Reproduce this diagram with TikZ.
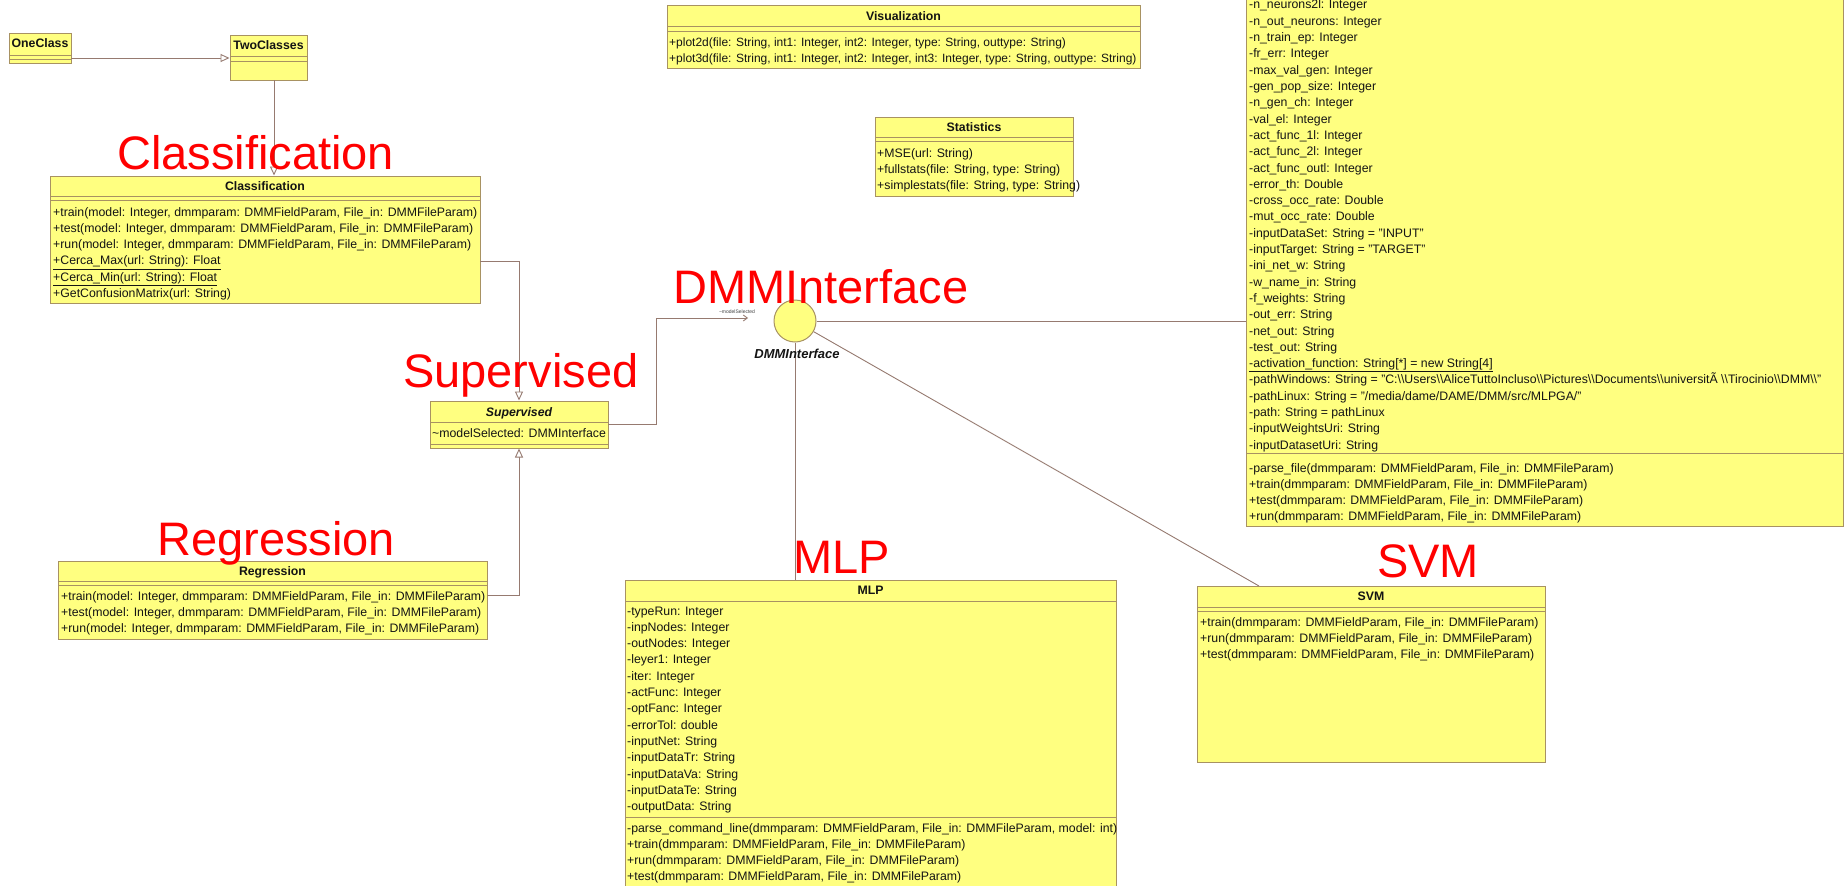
\documentclass[tikz,border=0pt]{standalone}
\usepackage{fontspec}
\setmainfont{Liberation Sans}
\usetikzlibrary{arrows.meta,fit}

\definecolor{classfill}{RGB}{255,255,128}
\definecolor{classedge}{RGB}{168,146,98}
\definecolor{linkcol}{RGB}{150,122,112}
\definecolor{memtext}{RGB}{20,20,20}
\newcommand\dbs{\textbackslash\textbackslash}

\tikzset{
  classbox/.style={draw=classedge, fill=classfill, line width=1pt, inner sep=0pt},
  sepline/.style={draw=classedge, line width=0.9pt},
  member/.style={anchor=base west, inner sep=0pt, text=memtext, font=\fontsize{12.3}{14}\selectfont},
  ctitle/.style={anchor=base, inner sep=0pt, text=memtext, font=\fontsize{12.3}{14}\selectfont\bfseries},
  gen/.style={draw=linkcol, line width=0.9pt, -{Triangle[length=9pt,width=8pt,fill=white]}},
  assoc/.style={draw=linkcol, line width=0.9pt, -{Straight Barb[length=4pt,width=6pt]}},
  link/.style={draw=linkcol, line width=0.9pt},
  caption/.style={anchor=base west, inner sep=0pt, text=red, font=\fontsize{47}{47}\selectfont},
}

% one text line per member, 16.3 units apart
\newcommand\memberlist[4]{%
  \foreach \t [count=\i] in {#4} {
    \node[member] (#1-\i) at (#2, {#3+4+16.3*(\i-1)}) {\t};
  }%
}

\begin{document}
\begin{tikzpicture}[x=1pt, y=-1pt]
\useasboundingbox (0,0) rectangle (1845,886);
\fill[white] (0,0) rectangle (1845,886);
\clip (0,0) rectangle (1845,886);

% ---------- class boxes ----------
\node[classbox, fit={(9,33) (71,63)}] (one) {};
\node[classbox, fit={(230,35) (307,80)}] (two) {};
\node[classbox, fit={(50,176) (480,303)}] (cls) {};
\node[classbox, fit={(430,401) (608,448)}] (sup) {};
\node[classbox, fit={(58,561) (487,639)}] (reg) {};
\node[classbox, fit={(667,5) (1140,68)}] (vis) {};
\node[classbox, fit={(875,117) (1073,196)}] (stat) {};
\node[classbox, fit={(625,580) (1116,900)}] (mlp) {};
\node[classbox, fit={(1197,586) (1545,762)}] (svm) {};
\node[classbox, fit={(1246,-20) (1843,526)}] (ga) {};

% compartment separators
\draw[sepline] (9,55) -- (71,55) (9,59) -- (71,59);
\draw[sepline] (230,56) -- (307,56) (230,61) -- (307,61);
\draw[sepline] (50,196) -- (480,196) (50,200) -- (480,200);
\draw[sepline] (430,422) -- (608,422) (430,444) -- (608,444);
\draw[sepline] (58,581) -- (487,581) (58,585) -- (487,585);
\draw[sepline] (667,26) -- (1140,26) (667,31) -- (1140,31);
\draw[sepline] (875,137) -- (1073,137) (875,141) -- (1073,141);
\draw[sepline] (625,601) -- (1116,601) (625,817) -- (1116,817);
\draw[sepline] (1197,607) -- (1545,607) (1197,611) -- (1545,611);
\draw[sepline] (1246,453) -- (1843,453);

% class names
\node[ctitle] (one-name) at (40,47) {OneClass};
\node[ctitle] (two-name) at (268.5,49) {TwoClasses};
\node[ctitle] (cls-name) at (265,190) {Classification};
\node[ctitle, font=\fontsize{12.3}{14}\selectfont\bfseries\itshape] (sup-name) at (519,416) {Supervised};
\node[ctitle] (reg-name) at (272.5,575) {Regression};
\node[ctitle] (vis-name) at (903.5,20) {Visualization};
\node[ctitle] (stat-name) at (974,131) {Statistics};
\node[ctitle] (mlp-name) at (870.5,594) {MLP};
\node[ctitle] (svm-name) at (1371,600) {SVM};

% members
\memberlist{clsm}{53}{212}{%
  {+train(model: Integer, dmmparam: DMMFieldParam, File\_in: DMMFileParam)},
  {+test(model: Integer, dmmparam: DMMFieldParam, File\_in: DMMFileParam)},
  {+run(model: Integer, dmmparam: DMMFieldParam, File\_in: DMMFileParam)},
  \underline{+Cerca\_Max(url: String): Float},
  \underline{+Cerca\_Min(url: String): Float},
  +GetConfusionMatrix(url: String)}

\node[member] (supa-1) at (432,437) {\textasciitilde modelSelected: DMMInterface};

\memberlist{regm}{61}{596}{%
  {+train(model: Integer, dmmparam: DMMFieldParam, File\_in: DMMFileParam)},
  {+test(model: Integer, dmmparam: DMMFieldParam, File\_in: DMMFileParam)},
  {+run(model: Integer, dmmparam: DMMFieldParam, File\_in: DMMFileParam)}}

\begin{scope}[member/.append style={font=\fontsize{12}{14}\selectfont}]
\memberlist{vism}{669}{42}{%
  {+plot2d(file: String, int1: Integer, int2: Integer, type: String, outtype: String)},
  {+plot3d(file: String, int1: Integer, int2: Integer, int3: Integer, type: String, outtype: String)}}
\end{scope}

\memberlist{statm}{877}{153}{%
  +MSE(url: String),
  {+fullstats(file: String, type: String)},
  {+simplestats(file: String, type: String)}}

\memberlist{mlpa}{627}{611}{%
  -typeRun: Integer, -inpNodes: Integer, -outNodes: Integer, -leyer1: Integer,
  -iter: Integer, -actFunc: Integer, -optFanc: Integer, -errorTol: double,
  -inputNet: String, -inputDataTr: String, -inputDataVa: String,
  -inputDataTe: String, -outputData: String}

\memberlist{mlpm}{627}{828}{%
  {-parse\_command\_line(dmmparam: DMMFieldParam, File\_in: DMMFileParam, model: int)},
  {+train(dmmparam: DMMFieldParam, File\_in: DMMFileParam)},
  {+run(dmmparam: DMMFieldParam, File\_in: DMMFileParam)},
  {+test(dmmparam: DMMFieldParam, File\_in: DMMFileParam)}}

\memberlist{svmm}{1200}{622}{%
  {+train(dmmparam: DMMFieldParam, File\_in: DMMFileParam)},
  {+run(dmmparam: DMMFieldParam, File\_in: DMMFileParam)},
  {+test(dmmparam: DMMFieldParam, File\_in: DMMFileParam)}}

\memberlist{gaa}{1249}{5}{%
  -n\_neurons2l: Integer, -n\_out\_neurons: Integer, -n\_train\_ep: Integer,
  -fr\_err: Integer, -max\_val\_gen: Integer, -gen\_pop\_size: Integer,
  -n\_gen\_ch: Integer, -val\_el: Integer, -act\_func\_1l: Integer,
  -act\_func\_2l: Integer, -act\_func\_outl: Integer, -error\_th: Double,
  -cross\_occ\_rate: Double, -mut\_occ\_rate: Double,
  -inputDataSet: String = "INPUT", -inputTarget: String = "TARGET",
  -ini\_net\_w: String, -w\_name\_in: String, -f\_weights: String,
  -out\_err: String, -net\_out: String, -test\_out: String,
  \underline{-activation\_function: String[*] = new String[4]},
  -pathWindows: String = "C:\dbs Users\dbs AliceTuttoIncluso\dbs Pictures\dbs Documents\dbs universitÃ \dbs Tirocinio\dbs DMM\dbs",
  -pathLinux: String = "/media/dame/DAME/DMM/src/MLPGA/",
  -path: String = pathLinux, -inputWeightsUri: String, -inputDatasetUri: String}

\memberlist{gam}{1249}{468}{%
  {-parse\_file(dmmparam: DMMFieldParam, File\_in: DMMFileParam)},
  {+train(dmmparam: DMMFieldParam, File\_in: DMMFileParam)},
  {+test(dmmparam: DMMFieldParam, File\_in: DMMFileParam)},
  {+run(dmmparam: DMMFieldParam, File\_in: DMMFileParam)}}

% ---------- interface ----------
\node[circle, draw=classedge, fill=classfill, line width=1pt, minimum size=42pt, inner sep=0pt] (iface) at (795,321) {};

% ---------- connectors ----------
\coordinate (one-out) at (71,58);
\draw[gen] (one-out) -- (one-out -| two.west);
\coordinate (two-out) at (274,80);
\draw[gen] (two-out) -- (two-out |- cls.north);
\coordinate (cls-out) at (480,261);
\draw[gen] (cls-out) -| (sup.north);
\coordinate (reg-out) at (487,595);
\draw[gen] (reg-out) -| (sup.south);
\coordinate (sup-out) at (608,424);
\coordinate (sel-end) at (748,318);
\draw[assoc] (sup-out) -- ++(48,0) |- (sel-end);
\draw[link] (iface.east) -- (iface.east -| ga.west);
\draw[link] (iface.south) -- (iface.south |- mlp.north);
\coordinate (svm-in) at (1259,586);
\draw[link] (iface) -- (svm-in);

\node[font=\fontsize{5}{6}\selectfont, text=memtext!80, inner sep=0pt] (sel-name) at (737,312) {\textasciitilde modelSelected};
\node[font=\fontsize{13}{14}\selectfont\bfseries\itshape, text=memtext, inner sep=0pt] (iface-name) at (797,354) {DMMInterface};

% ---------- red captions ----------
\node[caption] (lab-cls) at (117,169) {Classification};
\node[caption] (lab-sup) at (403,387) {Supervised};
\node[caption] (lab-reg) at (157,555) {Regression};
\node[caption, text depth=0pt] (lab-dmm) at (673,303) {DMMInterface};
\node[caption] (lab-mlp) at (793,573) {MLP};
\node[caption] (lab-svm) at (1377,577) {SVM};
\end{tikzpicture}
\end{document}
